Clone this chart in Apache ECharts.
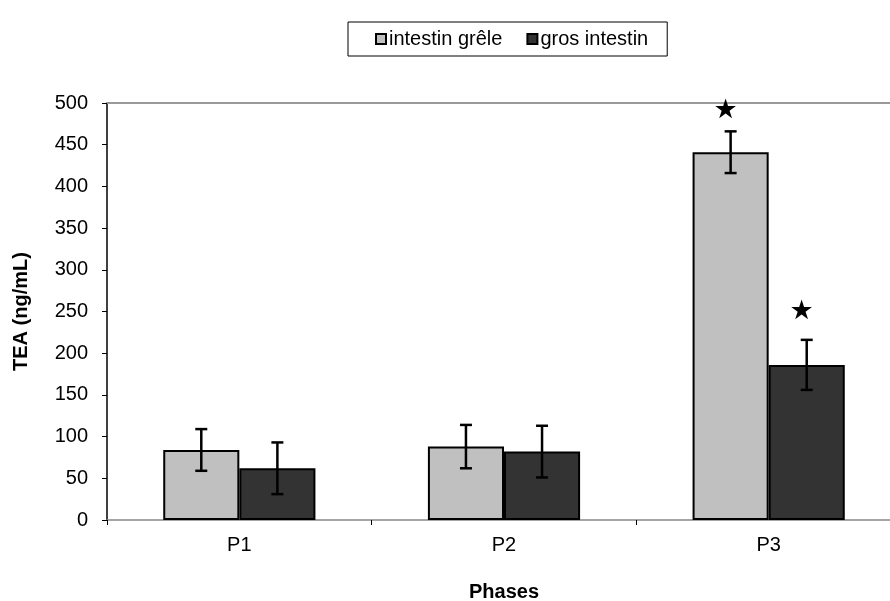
<!DOCTYPE html>
<html><head><meta charset="utf-8">
<script src="https://cdn.jsdelivr.net/npm/echarts@6/dist/echarts.min.js"></script>
<style>html,body{margin:0;padding:0;background:#fff}#c{width:890px;height:601px}</style>
</head><body><div id="c"></div>
<script>
const categories = ['P1', 'P2', 'P3'];
const seriesNames = ['intestin grêle', 'gros intestin'];
const smallIntestine = [84, 88, 441];
const smallIntestineErr = [25, 26, 25];
const largeIntestine = [62, 82, 186];
const largeIntestineErr = [31, 31, 30];
const smallIntestineStars = [null, null, 491];
const largeIntestineStars = [null, null, 250];
const yTicks = [0, 50, 100, 150, 200, 250, 300, 350, 400, 450, 500];

const FONT = 'Liberation Sans, Arial, sans-serif';
const CAT_GAP = 0.425;

function errRenderer(side, errs) {
  return function (params, api) {
    const i = api.value(0);
    const v = api.value(1);
    const e = errs[params.dataIndex];
    const band = api.size([1, 0])[0];
    const bw = band * (1 - CAT_GAP) / 2;
    const c = api.coord([i, v]);
    const x = c[0] + side * bw / 2;
    const yt = api.coord([i, v + e])[1];
    const yb = api.coord([i, v - e])[1];
    const cap = 6;
    const st = { stroke: '#000', lineWidth: 2.5 };
    return { type: 'group', children: [
      { type: 'line', shape: { x1: x, y1: yt, x2: x, y2: yb }, style: st },
      { type: 'line', shape: { x1: x - cap, y1: yt, x2: x + cap, y2: yt }, style: st },
      { type: 'line', shape: { x1: x - cap, y1: yb, x2: x + cap, y2: yb }, style: st }
    ]};
  };
}
function starRenderer(side) {
  return function (params, api) {
    const i = api.value(0);
    const v = api.value(1);
    const band = api.size([1, 0])[0];
    const bw = band * (1 - CAT_GAP) / 2;
    const c = api.coord([i, v]);
    return { type: 'text', style: { text: '★', x: c[0] + side * bw / 2 - 5, y: c[1],
      align: 'center', verticalAlign: 'middle', fontSize: 27, fill: '#000', fontFamily: 'DejaVu Sans' } };
  };
}
function pairs(arr) {
  const out = [];
  arr.forEach((v, i) => { if (v !== null) out.push([i, v]); });
  return out;
}

const chart = echarts.init(document.getElementById('c'));
chart.setOption({
  animation: false,
  textStyle: { fontFamily: FONT },
  legend: {
    top: 22, left: 348,
    data: seriesNames,
    itemWidth: 10, itemHeight: 10, itemGap: 24,
    borderColor: '#000', borderWidth: 1,
    padding: [7, 19, 7, 27],
    textStyle: { fontFamily: FONT, fontSize: 20, color: '#000', padding: [0, 0, 0, -2] },
    icon: 'rect',
    itemStyle: { borderColor: '#000', borderWidth: 2 }
  },
  grid: { left: 107, width: 794, top: 103, bottom: 81, containLabel: false, outerBoundsMode: 'none' },
  xAxis: [{
    type: 'category', data: categories,
    name: 'Phases', nameLocation: 'middle', nameGap: 62,
    nameTextStyle: { fontFamily: FONT, fontSize: 20, fontWeight: 'bold', color: '#000' },
    axisLine: { lineStyle: { color: '#888', width: 1.5 } },
    axisTick: { show: true, length: 5, lineStyle: { color: '#000' } },
    axisLabel: { fontFamily: FONT, fontSize: 20, color: '#000', margin: 15 },
    splitLine: { show: false }
  }, {
    type: 'category', data: categories, position: 'top',
    axisLine: { show: true, lineStyle: { color: '#999', width: 2 } },
    axisTick: { show: false }, axisLabel: { show: false }, splitLine: { show: false }
  }],
  yAxis: {
    type: 'value', min: yTicks[0], max: yTicks[yTicks.length - 1], interval: 50,
    name: 'TEA (ng/mL)', nameLocation: 'middle', nameGap: 76,
    nameTextStyle: { fontFamily: FONT, fontSize: 20, fontWeight: 'bold', color: '#000' },
    axisLine: { show: true, lineStyle: { color: '#000', width: 1.5 } },
    axisTick: { show: true, length: 5, lineStyle: { color: '#000' } },
    axisLabel: { fontFamily: FONT, fontSize: 20, color: '#000', margin: 19 },
    splitLine: { show: false }
  },
  series: [
    { name: seriesNames[0], type: 'bar', data: smallIntestine, barGap: '0%', barCategoryGap: (CAT_GAP * 100) + '%',
      itemStyle: { color: '#c0c0c0', borderColor: '#000', borderWidth: 2 } },
    { name: seriesNames[1], type: 'bar', data: largeIntestine, barGap: '0%', barCategoryGap: (CAT_GAP * 100) + '%',
      itemStyle: { color: '#333333', borderColor: '#000', borderWidth: 2 } },
    { type: 'custom', renderItem: errRenderer(-1, smallIntestineErr), data: smallIntestine.map((v, i) => [i, v]), z: 5 },
    { type: 'custom', renderItem: errRenderer(1, largeIntestineErr), data: largeIntestine.map((v, i) => [i, v]), z: 5 },
    { type: 'custom', renderItem: starRenderer(-1), data: pairs(smallIntestineStars), z: 5 },
    { type: 'custom', renderItem: starRenderer(1), data: pairs(largeIntestineStars), z: 5 }
  ]
});
</script></body></html>
